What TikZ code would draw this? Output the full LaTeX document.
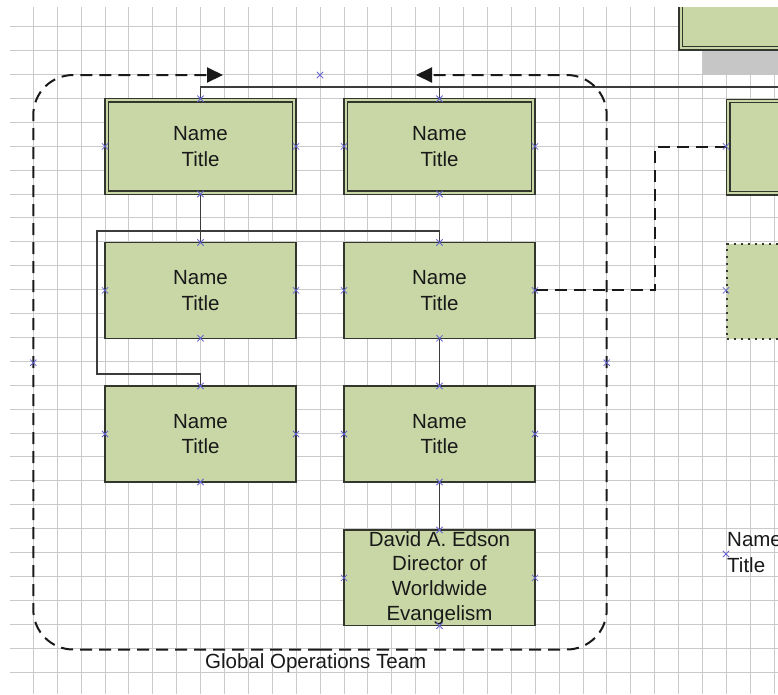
\documentclass[tikz,border=0pt]{standalone}
\usepackage{fontspec}
\setmainfont{Liberation Sans}
\usetikzlibrary{arrows.meta,shapes.misc}

\definecolor{boxgreen}{RGB}{201,215,166}
\definecolor{gridgray}{RGB}{202,202,202}
\definecolor{edge}{RGB}{50,54,45}
\definecolor{wire}{RGB}{60,60,60}
\definecolor{cpblue}{RGB}{100,100,210}
\definecolor{shadowgray}{RGB}{198,198,198}
\definecolor{ink}{RGB}{25,25,25}

\begin{document}
\begin{tikzpicture}[x=1pt,y=-1pt,
  gridline/.style={gridgray, line width=0.9pt},
  box/.style={draw=edge, line width=1.4pt, fill=boxgreen,
    minimum width=191pt, minimum height=95.7pt, inner sep=0pt,
    align=center, text=ink, font=\fontsize{20.5}{25.5}\selectfont},
  dottedbox/.style={box, draw=edge, dash pattern=on 1.8pt off 5.2pt, line width=1.8pt},
  innerline/.style={draw=edge, line width=1.4pt},
  wireline/.style={draw=wire, line width=1.8pt},
  dashline/.style={draw=ink, line width=2pt, dash pattern=on 12pt off 7pt},
  grouppath/.style={dashline, rounded corners=40pt},
  tip/.style={-{Triangle[length=16pt,width=15pt]}},
  cpmark/.style={cross out, draw=cpblue, line width=0.8pt,
    minimum size=5.5pt, inner sep=0pt},
  label/.style={inner sep=0pt, text=ink, font=\fontsize{20.5}{26.5}\selectfont}
]
\useasboundingbox (0,0) rectangle (778,694);
\clip (10,7) rectangle (778,694);

% background grid
\foreach \k in {0,...,27}
  \draw[gridline] (10,{26.7+23.9*\k}) -- (778,{26.7+23.9*\k});
\foreach \k in {0,...,31}
  \draw[gridline] ({33.3+23.9*\k},7) -- ({33.3+23.9*\k},694);

% shapes at the right edge
\fill[shadowgray] (702.7,50.7) rectangle (790,75);
\node[box, anchor=south west, minimum width=200pt, minimum height=90pt] (topbox) at (678.3,50.7) {};
\draw[innerline] ([shift={(4.4,4)}]topbox.north west) rectangle ([shift={(-4.4,-4.4)}]topbox.south east);
\node[box, anchor=north west] (tr) at (725.7,98.5) {};
\draw[innerline] ([shift={(4.3,4)}]tr.north west) rectangle ([shift={(-4.3,-4)}]tr.south east);
\node[dottedbox, anchor=north west] (dr) at (726,242.7) {};

% team boxes
\node[box] (tl) at (200.5,146.4) {Name\\Title};
\draw[innerline] ([shift={(4.3,4)}]tl.north west) rectangle ([shift={(-4.3,-4)}]tl.south east);
\node[box] (tm) at (439.5,146.4) {Name\\Title};
\draw[innerline] ([shift={(4.3,4)}]tm.north west) rectangle ([shift={(-4.3,-4)}]tm.south east);
\node[box] (r2l) at (200.5,290.4) {Name\\Title};
\node[box] (r2r) at (439.5,290.4) {Name\\Title};
\node[box] (r3l) at (200.5,434) {Name\\Title};
\node[box] (r3r) at (439.5,434) {Name\\Title};
\node[box, font=\fontsize{20.5}{24.6}\selectfont] (dae) at (439.5,577.9)
  {David A. Edson\\Director of\\Worldwide\\Evangelism};

% solid connectors
\coordinate (topbus) at (200.5,87.3);
\coordinate (busend) at (790,87.3);
\coordinate (j1) at (200.5,230.7);
\coordinate (j2) at (96.7,374);
\draw[wireline] (tl.north) -- (topbus) -- (busend);
\draw[wireline] (tm.north) -- (tm.north |- topbus);
\draw[wireline] (tl.south) -- (r2l.north);
\draw[wireline] (j1) -| (r2r.north);
\draw[wireline] (j1) -| (j2) -| (r3l.north);
\draw[wireline] (r2r.south) -- (r3r.north);
\draw[wireline] (r3r.south) -- (dae.north);

% dashed connector
\coordinate (bend) at (655,290.4);
\draw[dashline] (r2r.east) -- (bend) |- (tr.west);

% group container
\coordinate (gmidtop) at (320,75);
\coordinate (gmidbot) at (320,649.5);
\draw[grouppath, tip] (gmidbot) -- (33.3,649.5) -- (33.3,75) -- (223,75);
\draw[grouppath, tip] (gmidbot) -- (606.7,649.5) -- (606.7,75) -- (416,75);
\node[label, anchor=base west] (team) at (205,668.3) {Global Operations Team};

% free text at the right
\node[label, anchor=north west, align=left] (freetext) at (727,532) {Name\\Title};

% connection points
\foreach \p [count=\i] in {
  (200.5,98.7),(200.5,194),(105,146.4),(296,146.4),
  (439.5,98.7),(439.5,194),(344,146.4),(535,146.4),
  (726,146.4),
  (200.5,242.5),(200.5,338.3),(105,290.4),(296,290.4),
  (439.5,242.5),(439.5,338.3),(344,290.4),(535,290.4),
  (200.5,386),(200.5,482),(105,434),(296,434),
  (439.5,386),(439.5,482),(344,434),(535,434),
  (439.5,530),(439.5,625.7),(344,577.9),(535,577.9),
  (726,290.4),(726,554),
  (320,75),(33.3,362.7),(606.7,362.7)}
  \node[cpmark] (cp\i) at \p {};
\end{tikzpicture}
\end{document}
